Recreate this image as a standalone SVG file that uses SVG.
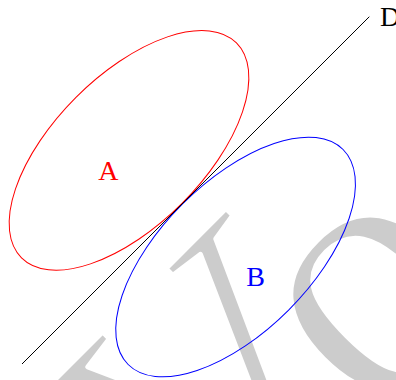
<svg xmlns="http://www.w3.org/2000/svg" width="396" height="380" viewBox="0 0 396 380">
  <style>
    .lbl { font-family: "Liberation Serif", "Times New Roman", serif; font-size: 28px; }
    .wm { font-family: "Liberation Serif", "Times New Roman", serif; font-size: 370px; fill: #cccccc; stroke: #ffffff; stroke-width: 5px; stroke-linejoin: round; }
    .ell { fill: none; stroke-width: 1; }
  </style>
  <rect width="396" height="380" fill="#ffffff"/>
  <g id="watermark">
    <text class="wm" transform="rotate(-45) translate(-10 0) scale(1.084 1)" x="-242.2" y="549.5">V</text>
    <text class="wm" transform="rotate(-45)"><tspan x="-39" y="568.5">o</tspan><tspan x="143.6" y="576">r</tspan></text>
  </g>
  <g id="nodeA">
    <ellipse class="ell" cx="129" cy="150.4" rx="152" ry="75" transform="rotate(-45 129 150.4)" stroke="#ff0000"/>
    <text class="lbl" x="108.3" y="179.5" text-anchor="middle" fill="#ff0000">A</text>
  </g>
  <g id="nodeB">
    <ellipse class="ell" cx="235.6" cy="257" rx="152" ry="75" transform="rotate(-45 235.6 257)" stroke="#0000ff"/>
    <text class="lbl" x="255.5" y="285.5" text-anchor="middle" fill="#0000ff">B</text>
  </g>
  <g id="connectors">
    <line x1="22" y1="364" x2="369.3" y2="16.7" stroke="#000000" stroke-width="1"/>
    <text class="lbl" x="380" y="26" fill="#000000">D</text>
  </g>
</svg>
